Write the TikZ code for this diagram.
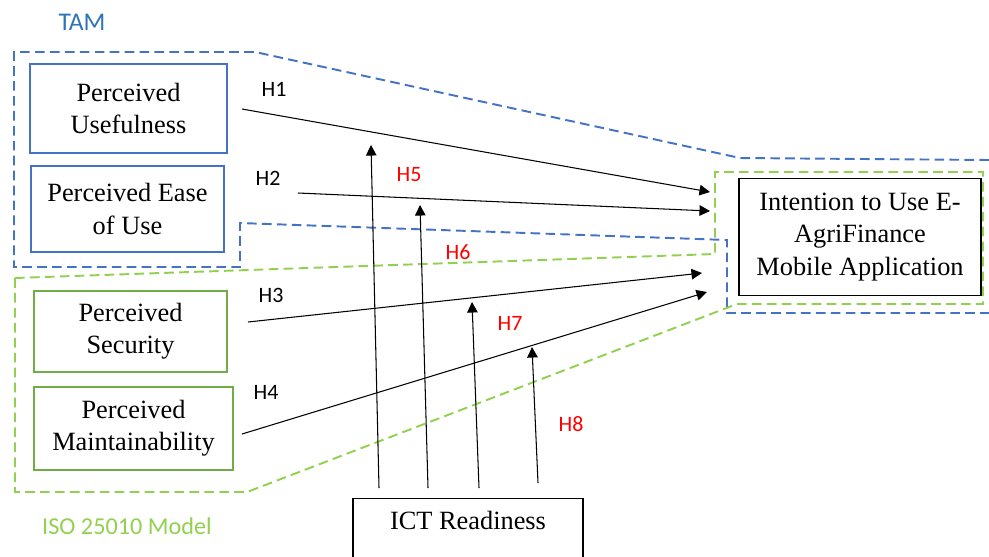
\documentclass[tikz,border=0pt]{standalone}
\usepackage{fontspec}
\setmainfont{Liberation Serif}
\newfontfamily\labelfont{Carlito}
\usepackage{xcolor}
\usepackage{tikz}
\usetikzlibrary{arrows.meta}

\definecolor{tamblue}{RGB}{68,114,196}
\definecolor{tamtext}{RGB}{46,117,182}
\definecolor{isogreen}{RGB}{146,208,80}
\definecolor{boxgreen}{RGB}{112,173,71}

\begin{document}
\begin{tikzpicture}[
		x=0.02cm, y=-0.02cm,
		box/.style={draw, line width=1.1pt, align=center, inner sep=0pt,
			font=\fontsize{15}{18.3}\selectfont},
		tambox/.style={box, draw=tamblue},
		isobox/.style={box, draw=boxgreen},
		plain/.style={box, draw=black, line width=0.7pt},
		group/.style={dash pattern=on 5.5pt off 3pt, line width=1.1pt},
		hyp/.style={font=\labelfont\fontsize{12.5}{14}\selectfont},
		mod/.style={hyp, text=red},
		every node/.style={align=center}
		]
		\useasboundingbox (0,0) rectangle (989,556);
		
		% Model groupings
		\draw[group, draw=tamblue] (989,160) -- (740,158) -- (255,52) -- (14,52) -- (14,267)
			-- (240,267) -- (240,223) -- (727,240) -- (727,313) -- (989,313);
		\draw[group, draw=isogreen] (15,278) -- (715,254) -- (715,172) -- (983,172)
			-- (983,304) -- (737,304) -- (247,492) -- (15,492) -- cycle;
		\node[font=\labelfont\fontsize{14.5}{16}\selectfont, text=tamtext] (tam) at (82,22) {TAM};
		\node[font=\labelfont\fontsize{13.8}{16}\selectfont, text=isogreen] (iso) at (127,526) {ISO 25010 Model};
		
		% Constructs
		\node[tambox, minimum width=3.94cm, minimum height=1.78cm] (pu) at (128.5,108.5) {Perceived\\ Usefulness};
		\node[tambox, minimum width=3.86cm, minimum height=1.72cm] (peou) at (127.5,209) {Perceived Ease\\ of Use};
		\node[isobox, minimum width=3.86cm, minimum height=1.62cm] (ps) at (130.5,331.5) {Perceived\\ Security};
		\node[isobox, minimum width=3.98cm, minimum height=1.66cm] (pm) at (133.5,428.5) {Perceived\\ Maintainability};
		\node[plain, minimum width=4.84cm, minimum height=2.34cm] (iu) at (860,237) {Intention to Use E-\\ AgriFinance\\ Mobile Application};
		\node[plain, minimum width=4.6cm, inner sep=0pt, text height=0.62cm, text depth=1.2cm, anchor=north] (ict) at (468,498) {ICT Readiness};
		
		% Arrow ends
		\coordinate (h1s) at (242,109);  \coordinate (h1e) at (710,192);
		\coordinate (h2s) at (298,193);  \coordinate (h2e) at (710,211);
		\coordinate (h3s) at (248,322);  \coordinate (h3e) at (702,273);
		\coordinate (h4s) at (242,434);  \coordinate (h4e) at (707,292);
		\coordinate (r5s) at (379,488);  \coordinate (r5e) at (371,145);
		\coordinate (r6s) at (428,488);  \coordinate (r6e) at (420,205);
		\coordinate (r7s) at (479,488);  \coordinate (r7e) at (472,302);
		\coordinate (r8s) at (538,483);  \coordinate (r8e) at (532,347);
		
		% Arrows
		\foreach \i/\j in {h1s/h1e, h2s/h2e, h3s/h3e, h4s/h4e,
			r5s/r5e, r6s/r6e, r7s/r7e, r8s/r8e}
		\draw[line width=0.6pt, -{Triangle[length=6pt, width=6pt]}] (\i) -- (\j);
		
		% Hypotheses
		\node[hyp] (l1) at (274,89) {H1};
		\node[hyp] (l2) at (268,178) {H2};
		\node[hyp] (l3) at (271,295) {H3};
		\node[hyp] (l4) at (266,392) {H4};
		\node[mod] (l5) at (409,175) {H5};
		\node[mod] (l6) at (458,252) {H6};
		\node[mod] (l7) at (510,323) {H7};
		\node[mod] (l8) at (571,424) {H8};
		
	\end{tikzpicture}
\end{document}
